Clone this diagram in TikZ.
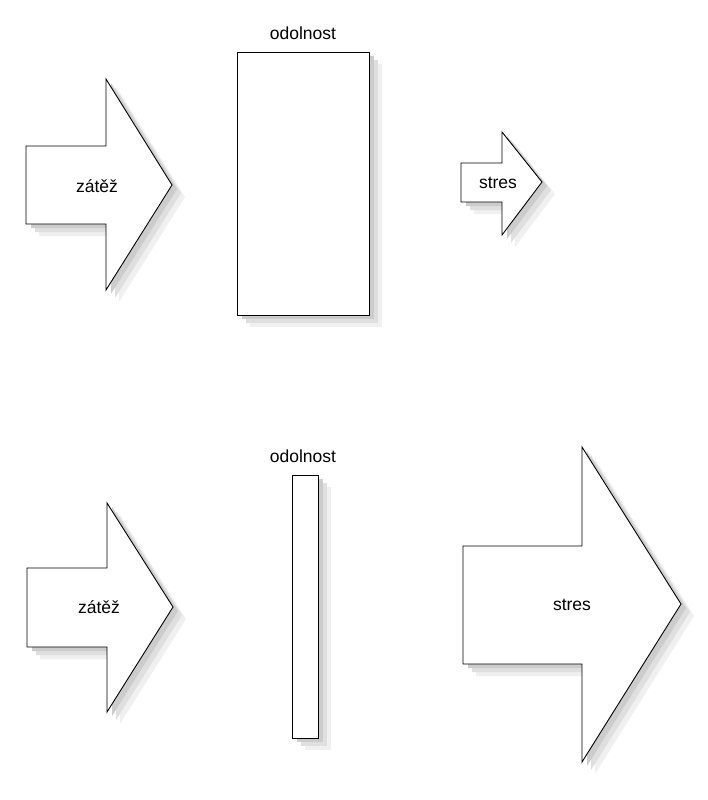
\documentclass[tikz,border=0pt]{standalone}
\usepackage{fontspec}
\setmainfont{Liberation Sans}
\begin{document}
\begin{tikzpicture}[x=1pt,y=-1pt,
  outl/.style={draw=black,fill=white,line width=0.9pt,line join=miter},
  shadowA/.style={fill=gray!12},
  shadowB/.style={fill=gray!25},
  shadowC/.style={fill=gray!40},
  lbl/.style={font=\fontsize{17.5}{20}\selectfont,inner sep=0pt}]
\useasboundingbox (0,0) rectangle (707,800);
\def\arrowA{(26,146) -- (106,146) -- (106,79) -- (172,185) -- (106,290) -- (106,224) -- (26,224) -- cycle}
\def\rectA{(237,52) rectangle (369,315)}
\def\arrowB{(461,163) -- (502,163) -- (502,132) -- (542,182) -- (502,235) -- (502,202) -- (461,202) -- cycle}
\def\arrowC{(27,568) -- (107,568) -- (107,503) -- (173,607) -- (107,712) -- (107,647) -- (27,647) -- cycle}
\def\rectB{(292,475) rectangle (318,738)}
\def\arrowD{(463,546) -- (582,546) -- (582,447) -- (681,604) -- (582,762) -- (582,664) -- (463,664) -- cycle}
% shadows
\foreach \p in {\arrowA,\rectA,\arrowB,\arrowC,\rectB,\arrowD}{
  \fill[shadowA,shift={(13,12)}] \p;
  \fill[shadowB,shift={(9,8)}] \p;
  \fill[shadowC,shift={(5,4)}] \p;
}
% shapes
\draw[outl] \arrowA;
\draw[outl] \rectA;
\draw[outl] \arrowB;
\draw[outl] \arrowC;
\draw[outl] \rectB;
\draw[outl] \arrowD;
% labels
\node[lbl] (zatez1) at (97,186) {zátěž};
\node[lbl] (odol1) at (303,33) {odolnost};
\node[lbl] (stres1) at (498,183) {stres};
\node[lbl] (zatez2) at (99,607) {zátěž};
\node[lbl] (odol2) at (303,456) {odolnost};
\node[lbl] (stres2) at (572,605) {stres};
\end{tikzpicture}
\end{document}
